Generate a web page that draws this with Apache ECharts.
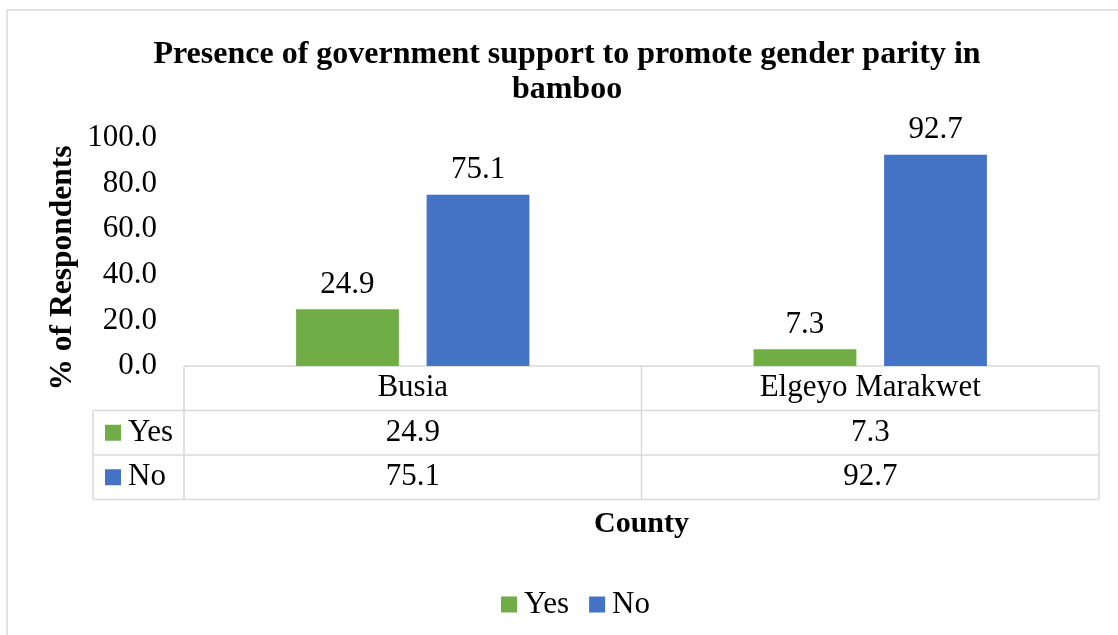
<!DOCTYPE html>
<html>
<head>
<meta charset="utf-8">
<script src="https://cdn.jsdelivr.net/npm/echarts@6/dist/echarts.min.js"></script>
<style>
  html, body { margin: 0; padding: 0; background: #fff; }
  #main { width: 1118px; height: 635px; }
</style>
</head>
<body>
<div id="main"></div>
<script>
// ---- data ----
const categories = ['Busia', 'Elgeyo Marakwet'];
const seriesNames = ['Yes', 'No'];
const yesValues = [24.9, 7.3];
const noValues = [75.1, 92.7];
const yMin = 0, yMax = 100, yInterval = 20;
const chartTitle = 'Presence of government support to promote gender parity in\nbamboo';
const yAxisTitle = '% of Respondents';
const xAxisTitle = 'County';

// ---- styles ----
const FONT = "'Liberation Serif', 'Times New Roman', serif";
const FS = 31;
const GREEN = '#70AD47';
const BLUE = '#4472C4';
const LINE = '#D9D9D9';
const colors = [GREEN, BLUE];
const seriesValues = [yesValues, noValues];

const chart = echarts.init(document.getElementById('main'), null, { renderer: 'canvas' });

const option = {
  animation: false,
  backgroundColor: '#fff',
  title: {
    text: chartTitle,
    left: 562,
    top: 32,
    textAlign: 'center',
    textStyle: { fontFamily: FONT, fontWeight: 'bold', fontSize: 32, lineHeight: 35, color: '#000' }
  },
  legend: {
    data: seriesNames,
    left: 496,
    top: 584,
    icon: 'rect',
    itemWidth: 16,
    itemHeight: 16,
    itemGap: 20,
    textStyle: { fontFamily: FONT, fontSize: FS, color: '#000', padding: [0, 0, 0, 2] }
  },
  grid: { left: 184, right: 19, top: 138, bottom: 269 },
  xAxis: {
    type: 'category',
    data: categories,
    axisLine: { show: false },
    axisTick: { show: false },
    axisLabel: { fontFamily: FONT, fontSize: FS, color: '#000', margin: 7, lineHeight: 30 },
    splitLine: { show: false }
  },
  yAxis: {
    type: 'value',
    min: yMin,
    max: yMax,
    interval: yInterval,
    axisLine: { show: false },
    axisTick: { show: false },
    splitLine: { show: false },
    axisLabel: {
      fontFamily: FONT, fontSize: FS, color: '#000', margin: 27,
      formatter: v => v.toFixed(1)
    }
  },
  series: seriesNames.map((name, i) => ({
    name: name,
    type: 'bar',
    data: seriesValues[i],
    barGap: '27%',
    barCategoryGap: '49%',
    itemStyle: { color: colors[i] },
    label: {
      show: true, position: 'top', distance: 9,
      fontFamily: FONT, fontSize: FS, color: '#000',
      formatter: p => p.value.toFixed(1)
    }
  }))
};

chart.setOption(option);

// ---- data table + axis titles, positioned from the axes ----
function buildGraphics() {
  const c0 = chart.convertToPixel({ xAxisIndex: 0 }, 0);
  const c1 = chart.convertToPixel({ xAxisIndex: 0 }, 1);
  const band = c1 - c0;
  const xL = c0 - band / 2;
  const xR = c0 + band * (categories.length - 0.5);
  const y0 = chart.convertToPixel({ yAxisIndex: 0 }, 0);
  const rowH = 44.5;
  const keyLeft = xL - 91;
  const nRows = seriesNames.length;
  const yBottom = y0 + rowH * (nRows + 1);
  const els = [];
  const lineStyle = { stroke: LINE, lineWidth: 1.5 };

  // outer chart border
  els.push({ type: 'rect', shape: { x: 7, y: 10, width: 1200, height: 700 }, style: { fill: 'none', stroke: LINE, lineWidth: 1.5 }, silent: true });

  // horizontal lines
  els.push({ type: 'line', shape: { x1: xL, y1: y0, x2: xR, y2: y0 }, style: lineStyle });
  for (let r = 1; r <= nRows + 1; r++) {
    const y = y0 + rowH * r;
    els.push({ type: 'line', shape: { x1: keyLeft, y1: y, x2: xR, y2: y }, style: lineStyle });
  }
  // vertical lines
  els.push({ type: 'line', shape: { x1: keyLeft, y1: y0 + rowH, x2: keyLeft, y2: yBottom }, style: lineStyle });
  for (let k = 0; k <= categories.length; k++) {
    const x = xL + band * k;
    els.push({ type: 'line', shape: { x1: x, y1: y0, x2: x, y2: yBottom }, style: lineStyle });
  }
  // row keys and values
  seriesNames.forEach((name, r) => {
    const yc = y0 + rowH * (r + 1) + rowH / 2;
    els.push({ type: 'rect', shape: { x: keyLeft + 12, y: yc - 8, width: 16, height: 16 }, style: { fill: colors[r] } });
    els.push({ type: 'text', x: keyLeft + 35, y: yc, style: { text: name, font: FS + 'px ' + FONT, fill: '#000', textAlign: 'left', textVerticalAlign: 'middle' } });
    seriesValues[r].forEach((v, k) => {
      const xc = chart.convertToPixel({ xAxisIndex: 0 }, k);
      els.push({ type: 'text', x: xc, y: yc, style: { text: v.toFixed(1), font: FS + 'px ' + FONT, fill: '#000', textAlign: 'center', textVerticalAlign: 'middle' } });
    });
  });
  // axis titles
  els.push({ type: 'text', x: (xL + xR) / 2, y: 524, style: { text: xAxisTitle, font: 'bold 30px ' + FONT, fill: '#000', textAlign: 'center', textVerticalAlign: 'middle' } });
  els.push({ type: 'text', x: 63, y: 268, rotation: Math.PI / 2, style: { text: yAxisTitle, font: 'bold 31.5px ' + FONT, fill: '#000', textAlign: 'center', textVerticalAlign: 'middle' } });

  chart.setOption({ graphic: { elements: els } });
}
buildGraphics();
</script>
</body>
</html>
